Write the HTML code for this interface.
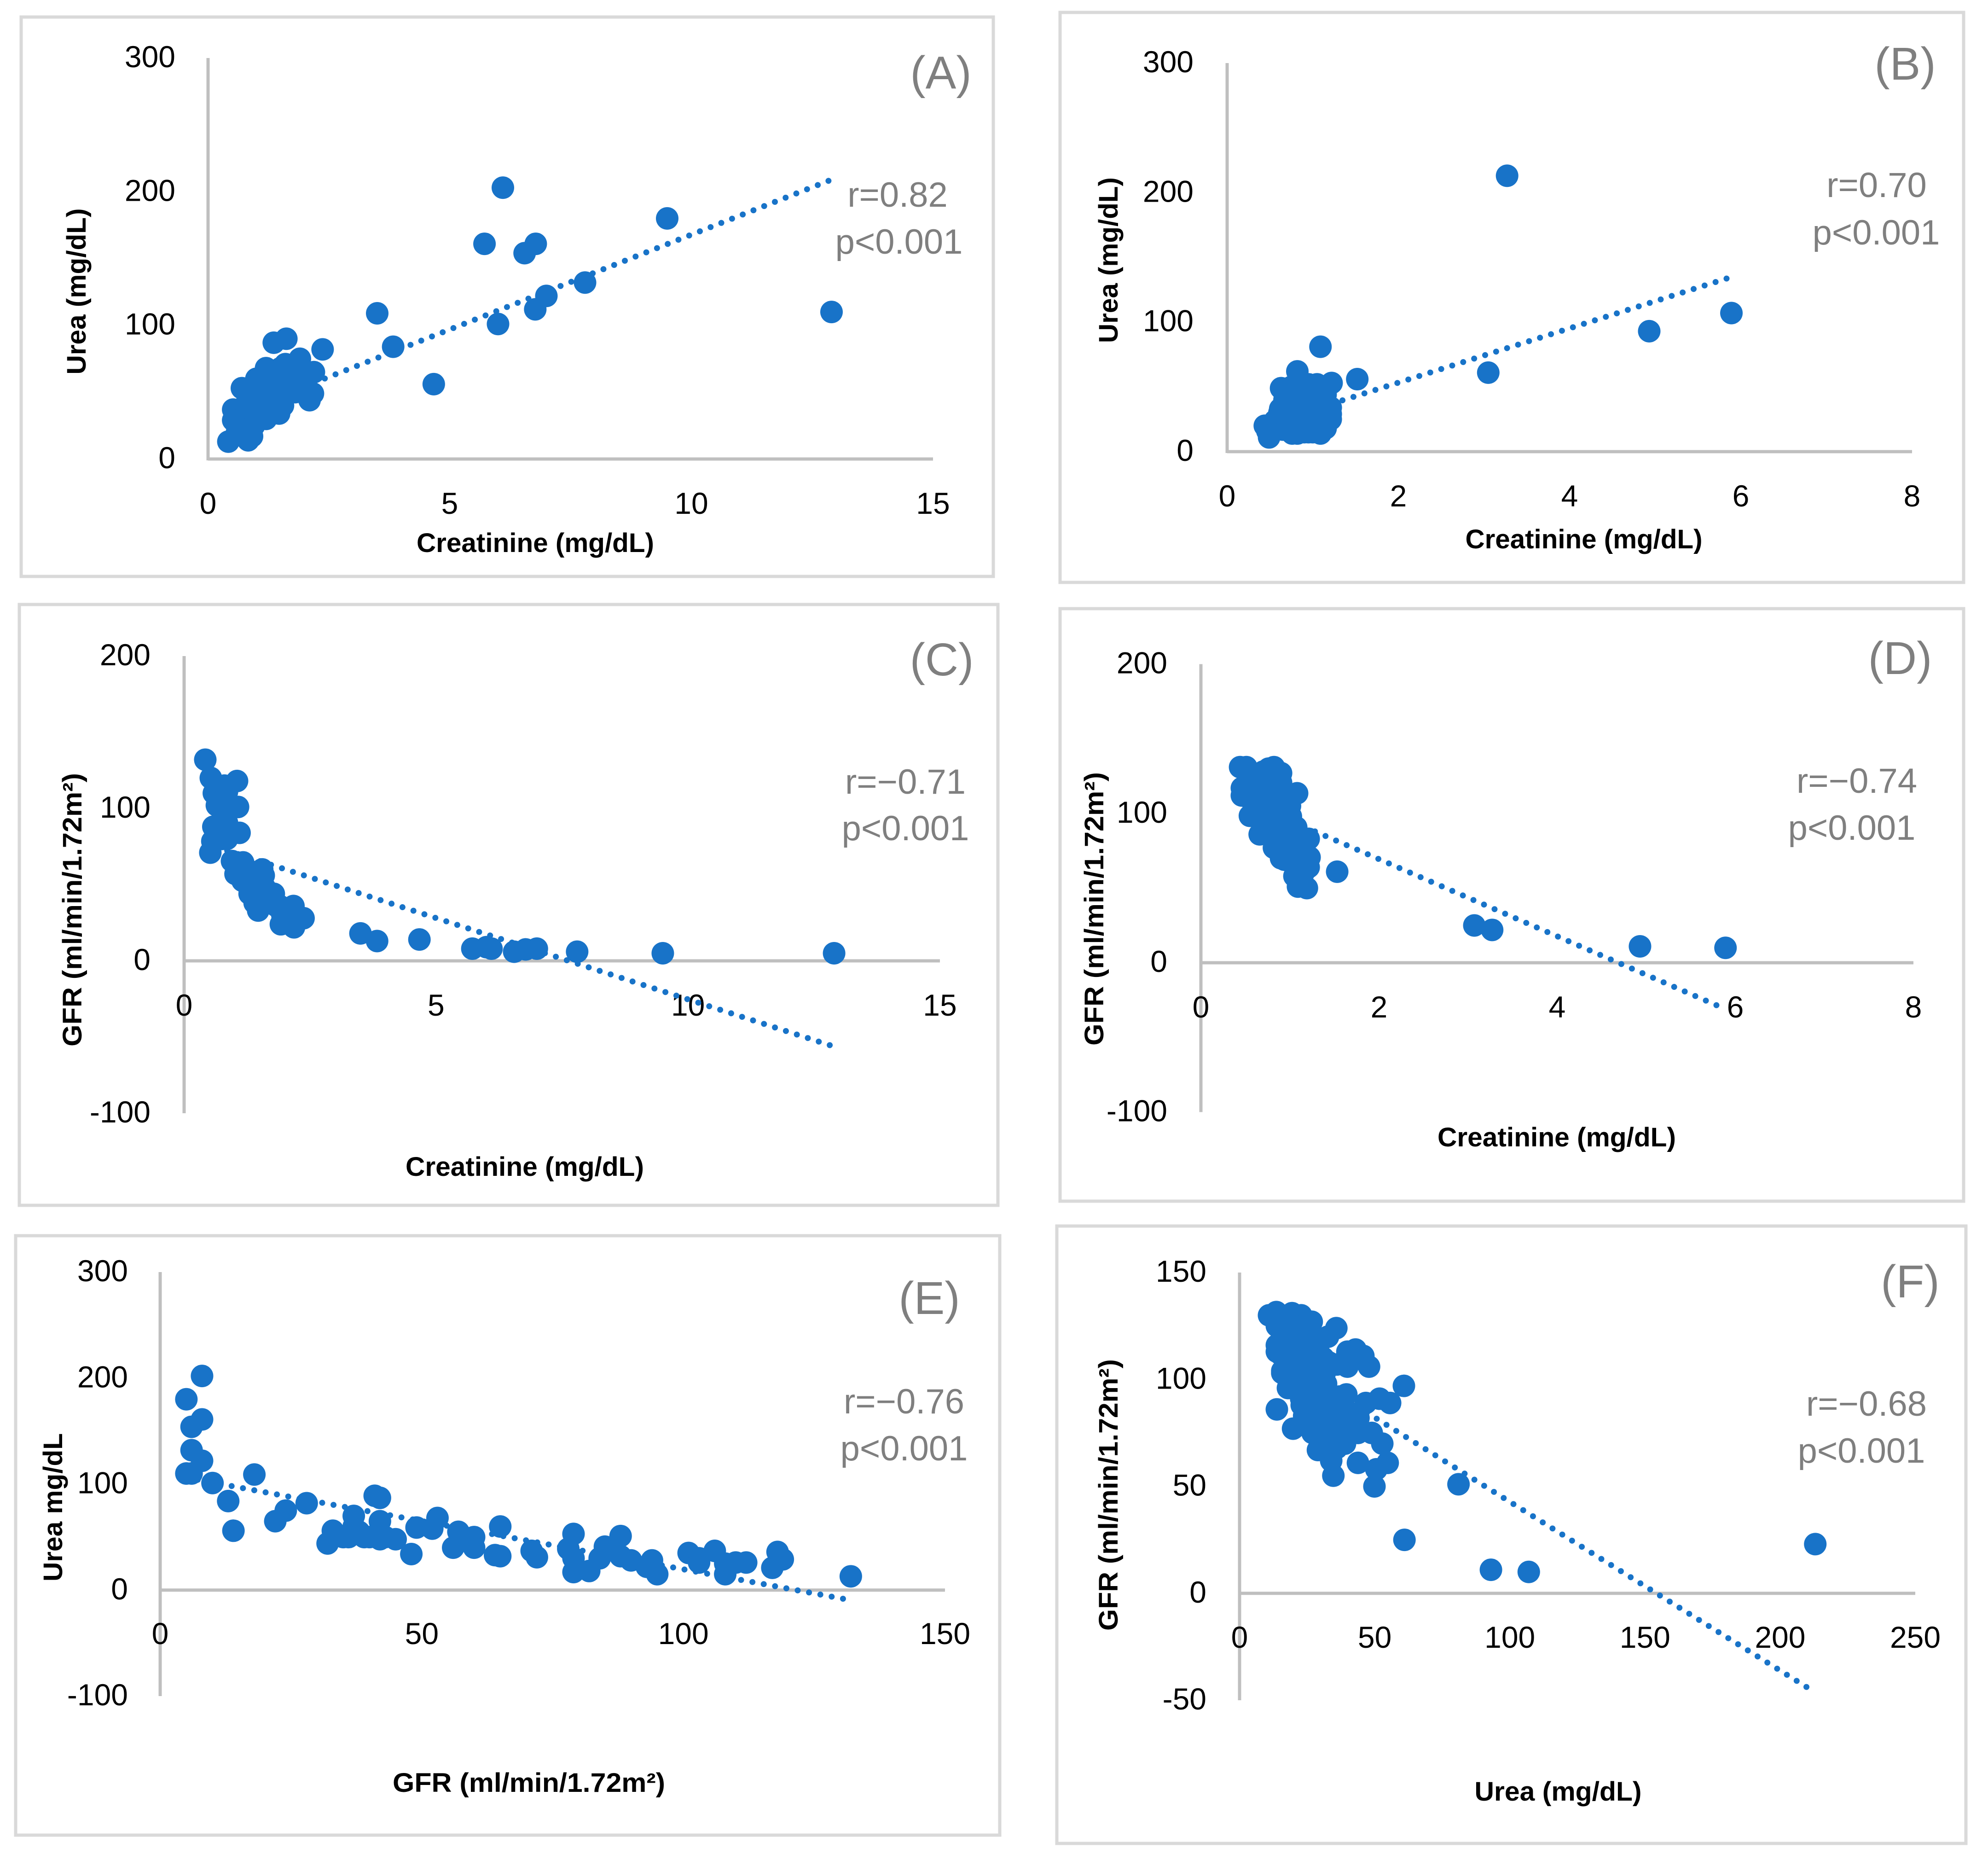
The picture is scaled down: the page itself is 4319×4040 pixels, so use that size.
<!DOCTYPE html>
<html>
<head>
<meta charset="utf-8">
<title>Correlation scatter panels</title>
<style>
html,body{margin:0;padding:0;background:#fff;}
svg{display:block;font-family:"Liberation Sans",sans-serif;}
.frame{fill:#fff;stroke:#D9D9D9;stroke-width:7;}
.tag{font-size:100px;fill:#7F7F7F;text-anchor:middle;}
.stat{font-size:76px;fill:#7F7F7F;text-anchor:middle;}
.title{font-size:58px;font-weight:bold;fill:#000;text-anchor:middle;}
.tick{font-size:66px;fill:#000;}
</style>
</head>
<body>
<svg id="figure" xmlns="http://www.w3.org/2000/svg" width="4319" height="4040" viewBox="0 0 4319 4040">
<rect x="0" y="0" width="4319" height="4040" fill="#fff"/>

<g id="panel-a">
<rect class="frame" x="46" y="37" width="2112" height="1215"/>
<g class="marks"></g>
<text class="title" x="1163" y="1199" textLength="516" lengthAdjust="spacingAndGlyphs">Creatinine (mg/dL)</text>
<text class="title" transform="translate(166,633) rotate(-90)" y="20" textLength="361" lengthAdjust="spacingAndGlyphs">Urea (mg/dL)</text>
<text class="tag" x="2044" y="192">(A)</text>
<text class="stat" x="1950" y="449">r=0.82</text>
<text class="stat" x="1953" y="551">p&lt;0.001</text>
</g>

<g id="panel-b">
<rect class="frame" x="2303" y="27" width="1963" height="1238"/>
<g class="marks"></g>
<text class="title" x="3441" y="1191" textLength="515" lengthAdjust="spacingAndGlyphs">Creatinine (mg/dL)</text>
<text class="title" transform="translate(2408,565) rotate(-90)" y="20" textLength="360" lengthAdjust="spacingAndGlyphs">Urea (mg/dL)</text>
<text class="tag" x="4139" y="173">(B)</text>
<text class="stat" x="4077" y="428">r=0.70</text>
<text class="stat" x="4076" y="531">p&lt;0.001</text>
</g>

<g id="panel-c">
<rect class="frame" x="42" y="1313" width="2126" height="1305"/>
<g class="marks"></g>
<text class="title" x="1140" y="2554" textLength="518" lengthAdjust="spacingAndGlyphs">Creatinine (mg/dL)</text>
<text class="title" transform="translate(157,1976) rotate(-90)" y="20" textLength="594" lengthAdjust="spacingAndGlyphs">GFR (ml/min/1.72m²)</text>
<text class="tag" x="2046" y="1467">(C)</text>
<text class="stat" x="1967" y="1724">r=−0.71</text>
<text class="stat" x="1967" y="1825">p&lt;0.001</text>
</g>

<g id="panel-d">
<rect class="frame" x="2303" y="1322" width="1963" height="1287"/>
<g class="marks"></g>
<text class="title" x="3382" y="2490" textLength="518" lengthAdjust="spacingAndGlyphs">Creatinine (mg/dL)</text>
<text class="title" transform="translate(2377,1974) rotate(-90)" y="20" textLength="594" lengthAdjust="spacingAndGlyphs">GFR (ml/min/1.72m²)</text>
<text class="tag" x="4128" y="1464">(D)</text>
<text class="stat" x="4034" y="1722">r=−0.74</text>
<text class="stat" x="4023" y="1824">p&lt;0.001</text>
</g>

<g id="panel-e">
<rect class="frame" x="34" y="2684" width="2138" height="1302"/>
<g class="marks"></g>
<text class="title" x="1149" y="3892" textLength="592" lengthAdjust="spacingAndGlyphs">GFR (ml/min/1.72m²)</text>
<text class="title" transform="translate(115,3274) rotate(-90)" y="20" textLength="322" lengthAdjust="spacingAndGlyphs">Urea mg/dL</text>
<text class="tag" x="2019" y="2854">(E)</text>
<text class="stat" x="1964" y="3070">r=−0.76</text>
<text class="stat" x="1964" y="3172">p&lt;0.001</text>
</g>

<g id="panel-f">
<rect class="frame" x="2296" y="2663" width="1975" height="1341"/>
<g class="marks"></g>
<text class="title" x="3385" y="3911" textLength="363" lengthAdjust="spacingAndGlyphs">Urea (mg/dL)</text>
<text class="title" transform="translate(2408,3247) rotate(-90)" y="20" textLength="590" lengthAdjust="spacingAndGlyphs">GFR (ml/min/1.72m²)</text>
<text class="tag" x="4150" y="2818">(F)</text>
<text class="stat" x="4055" y="3075">r=−0.68</text>
<text class="stat" x="4044" y="3177">p&lt;0.001</text>
</g>
</svg>

<script>
// Panel A: urea vs creatinine
const aXTicks = [0, 5, 10, 15];
const aYTicks = [0, 100, 200, 300];
const aX = [.42,.52,.52,.83,.91,.75,.7,.9,1.0,1.2,1.6,1.9,2.19,2.17,2.1,1.47,1.55,1.36,1.62,2.37,1.1,1.0,.85,1.2,1.3,1.4,1.5,1.7,1.8,1.7,1.3,1.15,.95,1.1,1.6,.7,.8,
  .9,1.0,1.2,1.4,1.5,1.8,1.6,1.0,.8,.7,.85,1.2,1.4,1.55,1.25,1.9,1.8,.6,
  3.5,3.83,4.67,5.72,6.1,6.55,6.78,6.0,6.77,7.0,7.8,9.5,12.9];
const aY = [13,37,29,14,17,25,53,35,60,68,71,75,65,49,44,34,40,87,90,82,50,40,30,30,45,55,60,55,52,65,62,38,25,55,48,30,42,
  45,50,58,65,68,62,60,30,35,22,22,42,42,52,36,55,50,20,
  109,84,56,161,203,154,161,101,112,122,132,180,110];
const aTrendX = [0.42, 12.9];
const aTrendY = [31.9, 209];

// Panel B: urea vs creatinine
const bXTicks = [0, 2, 4, 6, 8];
const bYTicks = [0, 100, 200, 300];
const bX = [1.09,.82,.63,1.22,1.52,.44,.47,.49,.76,.82,1.09,1.21,1.21,1.21,.56,.61,.67,.62,.58,.65,.7,.75,.8,.9,1.0,.95,1.05,1.15,1.1,1.0,.9,.7,.8,.9,1.0,1.1,.75,.85,.95,1.05,1.15,.8,.9,1.0,1.1,.95,1.05,.75,.7,1.15,.9,
  .7,.75,.85,.95,1.05,.85,.95,1.05,.8,.9,1.0,.85,.95,1.05,1.15,
  3.05,3.27,4.93,5.89];
const bY = [81,62,49,53,56,20,16,11,14,14,14,25,29,34,24,30,40,33,18,17,20,25,20,15,15,20,20,18,25,25,25,30,30,30,30,32,38,38,38,38,36,45,46,47,45,52,52,50,46,44,52,
  25,32,25,30,32,32,45,42,38,38,40,20,15,15,25,
  61,213,93,107];
const bTrendX = [0.45, 5.85];
const bTrendY = [20.8, 134];

// Panel C: GFR vs creatinine
const cXTicks = [0, 5, 10, 15];
const cYTicks = [-100, 0, 100, 200];
const cX = [.42,.53,.59,.65,1.05,1.07,1.1,.58,.56,.52,.8,.85,.85,.85,.85,.95,1.17,1.55,1.02,1.16,1.3,1.47,1.78,1.58,2.17,2.37,1.92,2.18,1.83,1.45,1.65,1.5,1.95,2.1,1.3,1.65,
  .72,.72,.75,1.15,1.3,1.4,1.6,1.7,1.9,2.0,1.4,1.25,
  3.5,3.83,4.67,5.72,6.0,6.1,6.55,6.78,7.0,7.8,9.5,12.9];
const cY = [132,120,110,102,118,101,84,88,78.5,71,115,111,101,90.6,80,65.5,64.6,60,57,52.5,44,33,44,56,36,28,24,22,36,45,42,52,30,28,55,42,
  100,88,80,58,52,48,48,38,36,33,38,60,
  18,13,14,8,9,8,6,7.5,8,6,5,5];
const cTrendX = [0.42, 12.84];
const cTrendY = [77, -55.6];

// Panel D: GFR vs creatinine
const dXTicks = [0, 2, 4, 6, 8];
const dYTicks = [-100, 0, 100, 200];
const dX = [.44,.51,.46,.46,.55,.66,.82,.76,1.08,1.21,1.22,1.21,1.19,1.09,.94,1.05,.82,.87,.9,.9,1.01,1.07,.6,.7,.8,.65,.75,.85,.95,.75,.85,.95,.9,1.0,1.1,1.0,1.1,1.15,.65,.7,.55,1.0,.9,.8,1.15,
  .6,.7,.8,.85,.95,.6,.8,.9,1.0,.95,1.05,.85,.9,1.1,1.1,.75,.9,.55,.7,.8,
  1.53,3.07,3.27,4.93,5.89];
const dY = [131,131,117,112,98.4,86,131,130,113.5,83,70.6,64,50,51,69,58,77,75,127,120.6,98,90.7,120,115,120,105,105,110,110,92,95,90,80,80,78,70,65,60,125,128,110,105,100,85,75,
  110,105,110,100,100,100,95,90,90,75,72,85,70,72,60,120,115,120,95,125,
  61,25,22,11,10];
const dTrendX = [0.45, 5.85];
const dTrendY = [109.4, -30];

// Panel E: urea vs GFR
const eXTicks = [0, 50, 100, 150];
const eYTicks = [-100, 0, 100, 200, 300];
const eX = [5,8,8,6,6,8,5,6,10,13,14,18,22,24,28,32,33,35,36,37,37,38,39,40,41,42,42,42,43,45,48,49,52,53,56,57,58,60,60,64,65,65,71,72,78,79,79,79,82,84,85,88,88,90,93,94,95,101,103,103,106,108,108,110,112,117,118,119,132];
const eY = [180,202,161,154,132,122,110,110,101,84,56,109,65,75,82,44,56,50,50,70,60,55,50,50,89,87,65,48,50,48,34,59,58,68,40,55,48,40,50,33,60,32,37,31,39,53,17,30,18,30,41,51,32,28,22,28,15,35,30,26,37,15,25,26,26,21,36,29,13];
const eTrendX = [5, 132];
const eTrendY = [106, -9.5];

// Panel F: GFR vs urea
const fXTicks = [0, 50, 100, 150, 200, 250];
const fYTicks = [-50, 0, 50, 100, 150];
const fX = [10.9,13.6,19.4,22.8,26.7,35.8,32.7,13.8,13.8,13.8,15.8,15.8,17.9,22.8,23.9,19.8,13.8,39.9,42.9,45.8,47.9,39.9,39.5,46.7,51.8,55.7,60.8,48.9,52.8,54.8,50.6,49.9,43.8,34.7,33.9,29,39,43.8,26.7,38,37.7,33.5,21,27,30,27,31.5,29,21,18,23,17,25,20,24,32,36,33,28,29,35,42,40,38,
  16,20,25,18,22,26,22,26,19,22,28,32,25,28,34,37,30,25,40,44,36,31,30,33,27,27,37,
  15,18,22,25,28,20,24,30,28,23,26,30,35,38,42,36,
  81,61,93,107,213];
const fY = [130,131.5,131,130,127,124,120,125,116,113,104,103,96,91,83,77,86,113,114,111,106,106,93,89,91,89,97,75,70,61,58,50,61,55,62,67,70,75,92,88,80,73,120,115,105,100,103,92,98,115,125,127,108,110,95,98,107,108,120,78,75,82,76,70,
  120,125,120,108,115,110,103,95,100,97,98,95,88,82,82,92,72,80,85,82,68,110,118,68,75,88,85,
  112,120,122,125,112,105,102,100,105,88,85,90,70,78,75,80,
  51,25,11,10,23];
const fTrendX = [11, 210];
const fTrendY = [113, -44];

// Page layout (pixels), kept apart from the data
const layoutA = {id:'panel-a', left:452, right:2027, bottom:997,  top:126,  xLabelY:1096, yLabelX:381};
const layoutB = {id:'panel-b', left:2666,right:4154, bottom:981,  top:137,  xLabelY:1080, yLabelX:2593};
const layoutC = {id:'panel-c', left:400, right:2042, bottom:2418, top:1425, xLabelY:2186, yLabelX:327};
const layoutD = {id:'panel-d', left:2609,right:4157, bottom:2415.5, top:1442.5, xLabelY:2190, yLabelX:2536};
const layoutE = {id:'panel-e', left:348, right:2053, bottom:3684, top:2763, xLabelY:3551, yLabelX:278};
const layoutF = {id:'panel-f', left:2693,right:4161, bottom:3693, top:2764, xLabelY:3559, yLabelX:2621};

const SVG_NS = 'http://www.w3.org/2000/svg';
const BLUE = '#1873C8';
const AXIS_GREY = '#BFBFBF';

function make(tag, attrs, parent) {
  const el = document.createElementNS(SVG_NS, tag);
  for (const k in attrs) el.setAttribute(k, attrs[k]);
  parent.appendChild(el);
  return el;
}

function drawPanel(L, xTicks, yTicks, xs, ys, trendX, trendY) {
  const g = document.querySelector('#' + L.id + ' .marks');
  const xMin = xTicks[0], xMax = xTicks[xTicks.length - 1];
  const yMin = yTicks[0], yMax = yTicks[yTicks.length - 1];
  const sx = v => L.left + (v - xMin) / (xMax - xMin) * (L.right - L.left);
  const sy = v => L.bottom - (v - yMin) / (yMax - yMin) * (L.bottom - L.top);

  const yAxis = make('line', {x1: sx(0), x2: sx(0), y1: L.top, y2: L.bottom + (yMin === 0 ? 3 : 0), stroke: AXIS_GREY, 'stroke-width': 7}, g);
  
  
  const xAxis = make('line', {x1: sx(0), x2: L.right, y1: sy(0), y2: sy(0), stroke: AXIS_GREY, 'stroke-width': 7}, g);
  
  

  xTicks.forEach(t => {
    const el = make('text', {class: 'tick', x: sx(t), y: L.xLabelY + 20, 'text-anchor': 'middle'}, g);
    el.textContent = String(t);
    
    
  });
  yTicks.forEach(t => {
    const el = make('text', {class: 'tick', x: L.yLabelX, y: sy(t) + 20, 'text-anchor': 'end'}, g);
    el.textContent = String(t);
    
    
  });

  const trend = make('line', {
    x1: sx(trendX[0]), y1: sy(trendY[0]), x2: sx(trendX[1]), y2: sy(trendY[1]),
    stroke: BLUE, 'stroke-width': 13, 'stroke-linecap': 'round', 'stroke-dasharray': '0.01 25'
  }, g);
  
  

  xs.forEach((v, i) => {
    const pt = make('circle', {cx: sx(v), cy: sy(ys[i]), r: 24.5, fill: BLUE}, g);
    
    
  });
}

drawPanel(layoutA, aXTicks, aYTicks, aX, aY, aTrendX, aTrendY);
drawPanel(layoutB, bXTicks, bYTicks, bX, bY, bTrendX, bTrendY);
drawPanel(layoutC, cXTicks, cYTicks, cX, cY, cTrendX, cTrendY);
drawPanel(layoutD, dXTicks, dYTicks, dX, dY, dTrendX, dTrendY);
drawPanel(layoutE, eXTicks, eYTicks, eX, eY, eTrendX, eTrendY);
drawPanel(layoutF, fXTicks, fYTicks, fX, fY, fTrendX, fTrendY);
</script>
</body>
</html>
